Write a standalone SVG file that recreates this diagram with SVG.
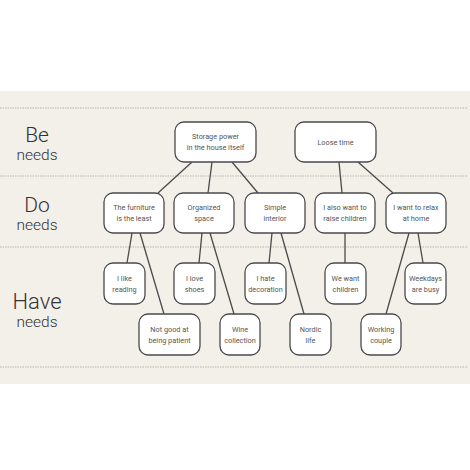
<svg xmlns="http://www.w3.org/2000/svg" width="470" height="470" viewBox="0 0 470 470">
<style>
.bg{fill:#f3f0ea}
.dot{stroke:#b8b4ac;stroke-width:1;stroke-dasharray:1.5 1}
.n rect{fill:#fff;stroke:#4a4a4a;stroke-width:1.3}
.n text{font-family:Roboto,"Liberation Sans",sans-serif;font-size:7.3px;fill:#555;text-anchor:middle}
.big{font-family:Roboto,"Liberation Sans",sans-serif;font-weight:300;fill:#333;text-anchor:middle}
#connectors line{stroke:#4a4a4a;stroke-width:1.3}
</style>
<rect x="0" y="0" width="470" height="470" fill="#fff"/>
<rect class="bg" x="0" y="91" width="470" height="293"/>
<g id="rules">
<line class="dot" x1="0" y1="108" x2="468" y2="108"/>
<line class="dot" x1="0" y1="176" x2="468" y2="176"/>
<line class="dot" x1="0" y1="247" x2="468" y2="247"/>
<line class="dot" x1="0" y1="367" x2="468" y2="367"/>
</g>
<g id="labels">
<text class="big" x="37" y="142" font-size="21">Be</text>
<text class="big" x="37" y="160" font-size="15.5">needs</text>
<text class="big" x="37" y="212" font-size="21">Do</text>
<text class="big" x="37" y="230" font-size="15.5">needs</text>
<text class="big" x="37" y="308.5" font-size="22">Have</text>
<text class="big" x="37" y="327" font-size="15.5">needs</text>
</g>
<g id="connectors">
<line x1="192" y1="162" x2="158" y2="193"/>
<line x1="212" y1="162" x2="208" y2="193"/>
<line x1="232" y1="162" x2="258" y2="193"/>
<line x1="339" y1="162" x2="342" y2="193"/>
<line x1="358" y1="162" x2="393" y2="193"/>
<line x1="132" y1="233" x2="127" y2="263"/>
<line x1="140" y1="233" x2="164" y2="314"/>
<line x1="202" y1="233" x2="199" y2="263"/>
<line x1="210" y1="233" x2="234" y2="314"/>
<line x1="272" y1="233" x2="269" y2="263"/>
<line x1="281" y1="233" x2="304" y2="314"/>
<line x1="345" y1="233" x2="345" y2="263"/>
<line x1="409" y1="233" x2="386" y2="314"/>
<line x1="418" y1="233" x2="423" y2="263"/>
</g>
<g id="storage" class="n"><rect x="175" y="122" width="81" height="40" rx="9"/><text x="215.5" y="139">Storage power</text><text x="215.5" y="150">in the house itself</text></g>
<g id="loose" class="n"><rect x="295" y="122" width="81" height="40" rx="9"/><text x="335.5" y="144.5">Loose time</text></g>
<g id="furniture" class="n"><rect x="104" y="193" width="60" height="40" rx="9"/><text x="134" y="210">The furniture</text><text x="134" y="221">is the least</text></g>
<g id="organized" class="n"><rect x="174" y="193" width="60" height="40" rx="9"/><text x="204" y="210">Organized</text><text x="204" y="221">space</text></g>
<g id="simple" class="n"><rect x="245" y="193" width="60" height="40" rx="9"/><text x="275" y="210">Simple</text><text x="275" y="221">interior</text></g>
<g id="raise" class="n"><rect x="315" y="193" width="60" height="40" rx="9"/><text x="345" y="210">I also want to</text><text x="345" y="221">raise children</text></g>
<g id="relax" class="n"><rect x="386" y="193" width="60" height="40" rx="9"/><text x="416" y="210">I want to relax</text><text x="416" y="221">at home</text></g>
<g id="reading" class="n"><rect x="104" y="263" width="41" height="41" rx="9"/><text x="124.5" y="281">I like</text><text x="124.5" y="292">reading</text></g>
<g id="shoes" class="n"><rect x="174" y="263" width="41" height="41" rx="9"/><text x="194.5" y="281">I love</text><text x="194.5" y="292">shoes</text></g>
<g id="decoration" class="n"><rect x="245" y="263" width="41" height="41" rx="9"/><text x="265.5" y="281">I hate</text><text x="265.5" y="292">decoration</text></g>
<g id="wantchildren" class="n"><rect x="325" y="263" width="41" height="41" rx="9"/><text x="345.5" y="281">We want</text><text x="345.5" y="292">children</text></g>
<g id="weekdays" class="n"><rect x="405" y="263" width="41" height="41" rx="9"/><text x="425.5" y="281">Weekdays</text><text x="425.5" y="292">are busy</text></g>
<g id="patient" class="n"><rect x="139" y="314" width="61" height="41" rx="9"/><text x="169.5" y="332">Not good at</text><text x="169.5" y="343">being patient</text></g>
<g id="wine" class="n"><rect x="220" y="314" width="40" height="41" rx="9"/><text x="240" y="332">Wine</text><text x="240" y="343">collection</text></g>
<g id="nordic" class="n"><rect x="290" y="314" width="41" height="41" rx="9"/><text x="310.5" y="332">Nordic</text><text x="310.5" y="343">life</text></g>
<g id="working" class="n"><rect x="361" y="314" width="40" height="41" rx="9"/><text x="381" y="332">Working</text><text x="381" y="343">couple</text></g>
</svg>
